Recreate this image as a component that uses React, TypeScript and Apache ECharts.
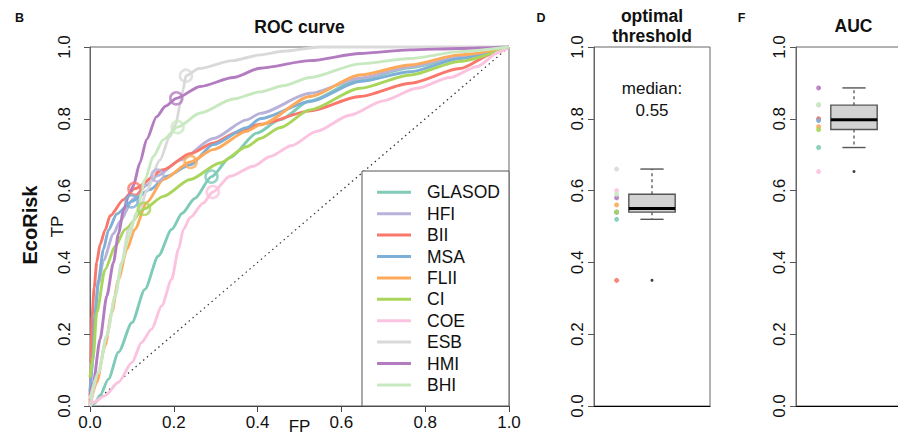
import React, { useEffect, useRef } from "react";
import * as echarts from "echarts";

// ---------- data ----------
const METHODS = ["GLASOD", "HFI", "BII", "MSA", "FLII", "CI", "COE", "ESB", "HMI", "BHI"];
const COLORS = ["#7fcbb8", "#b8b2da", "#f9786b", "#7eafd6", "#fdaa5c", "#a9d65a", "#fbc3df", "#d9d9d9", "#b47cc0", "#c8e9c0"];

const ROC_GLASOD = [[0, 0], [0.012, 0.008], [0.024, 0.03], [0.044, 0.075], [0.068, 0.15], [0.1, 0.232], [0.131, 0.325], [0.163, 0.418], [0.195, 0.492], [0.22, 0.537], [0.25, 0.578], [0.29, 0.639], [0.334, 0.692], [0.398, 0.76], [0.453, 0.797], [0.525, 0.85], [0.644, 0.91], [0.764, 0.942], [0.883, 0.972], [1, 1]];
const ROC_HFI = [[0, 0.03], [0.006, 0.12], [0.012, 0.25], [0.02, 0.34], [0.032, 0.405], [0.056, 0.48], [0.072, 0.515], [0.103, 0.577], [0.135, 0.615], [0.161, 0.642], [0.215, 0.685], [0.294, 0.745], [0.374, 0.797], [0.406, 0.815], [0.525, 0.871], [0.644, 0.913], [0.764, 0.945], [0.883, 0.975], [1, 1]];
const ROC_BII = [[0, 0], [0.002, 0.12], [0.005, 0.25], [0.01, 0.33], [0.016, 0.4], [0.024, 0.45], [0.036, 0.49], [0.048, 0.53], [0.08, 0.575], [0.106, 0.605], [0.175, 0.658], [0.239, 0.703], [0.294, 0.732], [0.35, 0.762], [0.406, 0.785], [0.525, 0.822], [0.644, 0.862], [0.764, 0.899], [0.883, 0.94], [0.963, 0.982], [1, 1]];
const ROC_MSA = [[0, 0.04], [0.006, 0.12], [0.012, 0.26], [0.02, 0.35], [0.032, 0.436], [0.044, 0.49], [0.064, 0.535], [0.0995, 0.57], [0.143, 0.603], [0.183, 0.64], [0.239, 0.672], [0.294, 0.728], [0.374, 0.775], [0.406, 0.8], [0.525, 0.848], [0.644, 0.904], [0.764, 0.931], [0.883, 0.968], [1, 1]];
const ROC_FLII = [[0, 0], [0.016, 0.066], [0.036, 0.168], [0.052, 0.26], [0.068, 0.353], [0.088, 0.436], [0.107, 0.492], [0.135, 0.566], [0.175, 0.631], [0.24, 0.68], [0.294, 0.714], [0.374, 0.765], [0.406, 0.783], [0.525, 0.862], [0.644, 0.922], [0.764, 0.95], [0.883, 0.978], [1, 1]];
const ROC_CI = [[0, 0.08], [0.008, 0.14], [0.016, 0.26], [0.036, 0.38], [0.06, 0.445], [0.084, 0.492], [0.129, 0.549], [0.175, 0.584], [0.239, 0.631], [0.31, 0.677], [0.374, 0.722], [0.406, 0.745], [0.453, 0.775], [0.525, 0.825], [0.644, 0.885], [0.764, 0.922], [0.883, 0.96], [1, 1]];
const ROC_COE = [[0, 0], [0.008, 0.01], [0.036, 0.029], [0.068, 0.066], [0.1, 0.121], [0.123, 0.177], [0.147, 0.214], [0.171, 0.279], [0.195, 0.353], [0.211, 0.436], [0.223, 0.492], [0.239, 0.525], [0.27, 0.565], [0.293, 0.596], [0.334, 0.64], [0.39, 0.668], [0.43, 0.695], [0.48, 0.725], [0.541, 0.765], [0.62, 0.81], [0.7, 0.85], [0.78, 0.885], [0.859, 0.915], [0.923, 0.945], [0.978, 0.987], [1, 1]];
const ROC_ESB = [[0, 0], [0.02, 0.093], [0.04, 0.196], [0.06, 0.306], [0.076, 0.4], [0.092, 0.492], [0.12, 0.55], [0.135, 0.6], [0.167, 0.685], [0.19, 0.75], [0.205, 0.785], [0.215, 0.84], [0.222, 0.88], [0.229, 0.92], [0.26, 0.94], [0.34, 0.962], [0.406, 0.978], [0.46, 0.988], [0.549, 1], [1, 1]];
const ROC_HMI = [[0, 0.03], [0.008, 0.066], [0.024, 0.186], [0.04, 0.306], [0.056, 0.4], [0.068, 0.48], [0.08, 0.545], [0.092, 0.585], [0.103, 0.612], [0.119, 0.677], [0.135, 0.742], [0.159, 0.806], [0.18, 0.835], [0.206, 0.857], [0.263, 0.89], [0.342, 0.915], [0.406, 0.941], [0.525, 0.962], [0.644, 0.982], [0.764, 0.992], [0.883, 0.996], [1, 1]];
const ROC_BHI = [[0, 0.02], [0.02, 0.093], [0.04, 0.196], [0.06, 0.306], [0.076, 0.4], [0.092, 0.47], [0.111, 0.538], [0.131, 0.63], [0.151, 0.695], [0.175, 0.742], [0.209, 0.777], [0.263, 0.816], [0.342, 0.855], [0.406, 0.875], [0.461, 0.892], [0.525, 0.915], [0.644, 0.953], [0.764, 0.968], [0.883, 0.987], [1, 1]];
const ROC_CURVES = [ROC_GLASOD, ROC_HFI, ROC_BII, ROC_MSA, ROC_FLII, ROC_CI, ROC_COE, ROC_ESB, ROC_HMI, ROC_BHI];

const OPT_FP = [0.29, 0.161, 0.106, 0.0995, 0.24, 0.129, 0.293, 0.229, 0.206, 0.209];
const OPT_TP = [0.639, 0.642, 0.605, 0.57, 0.68, 0.549, 0.596, 0.92, 0.857, 0.777];

const THRESHOLD = [0.52, 0.54, 0.35, 0.54, 0.56, 0.54, 0.6, 0.66, 0.58, 0.59];
const AUC = [0.72, 0.8, 0.8, 0.795, 0.778, 0.77, 0.653, 0.838, 0.886, 0.84];

const DIAGONAL = [[0, 0], [1, 1]];
const AXIS_TICKS = [0, 0.2, 0.4, 0.6, 0.8, 1.0];

// ---------- helpers ----------
const FONT = "'Liberation Sans', Arial, Helvetica, sans-serif";
const DOT_X = 0.195;
const BOX_X = 0.5;

function boxStats(vals: number[]) {
  const s = [...vals].sort((a, b) => a - b);
  const n = s.length;
  const n4 = Math.floor((n + 3) / 2) / 2;
  const d = [1, n4, (n + 1) / 2, n + 1 - n4, n];
  const f = d.map((i) => 0.5 * (s[Math.floor(i) - 1] + s[Math.ceil(i) - 1]));
  const q1 = f[1], med = f[2], q3 = f[3];
  const iqr = q3 - q1;
  const inside = s.filter((v) => v >= q1 - 1.5 * iqr && v <= q3 + 1.5 * iqr);
  const out = s.filter((v) => v < q1 - 1.5 * iqr || v > q3 + 1.5 * iqr);
  return { lo: inside[0], q1, med, q3, hi: inside[inside.length - 1], out };
}

function renderBox(params: any, api: any) {
  const x = api.value(0);
  const lo = api.value(1), q1 = api.value(2), med = api.value(3), q3 = api.value(4), hi = api.value(5);
  const cx = api.coord([x, med])[0];
  const yLo = api.coord([x, lo])[1];
  const yQ1 = api.coord([x, q1])[1];
  const yMed = api.coord([x, med])[1];
  const yQ3 = api.coord([x, q3])[1];
  const yHi = api.coord([x, hi])[1];
  const half = api.size([0.2, 0])[0];
  const cap = half / 2;
  const dash = { stroke: "#444", lineWidth: 1.2, lineDash: [3, 3] };
  const solid = { stroke: "#555", lineWidth: 1.4 };
  return {
    type: "group",
    children: [
      { type: "line", shape: { x1: cx, y1: yQ3, x2: cx, y2: yHi }, style: dash },
      { type: "line", shape: { x1: cx, y1: yQ1, x2: cx, y2: yLo }, style: dash },
      { type: "line", shape: { x1: cx - cap, y1: yHi, x2: cx + cap, y2: yHi }, style: solid },
      { type: "line", shape: { x1: cx - cap, y1: yLo, x2: cx + cap, y2: yLo }, style: solid },
      { type: "rect", shape: { x: cx - half, y: yQ3, width: 2 * half, height: yQ1 - yQ3 }, style: { fill: "#d3d3d3", stroke: "#555", lineWidth: 1.4 } },
      { type: "line", shape: { x1: cx - half, y1: yMed, x2: cx + half, y2: yMed }, style: { stroke: "#000", lineWidth: 3 } },
    ],
  };
}

function boxPanelSeries(vals: number[], idx: number) {
  const st = boxStats(vals);
  return [
    {
      type: "scatter",
      xAxisIndex: idx,
      yAxisIndex: idx,
      symbol: "circle",
      symbolSize: 5,
      silent: true,
      data: vals.map((v, i) => ({ value: [DOT_X, v], itemStyle: { color: COLORS[i], opacity: 0.9 } })),
      z: 3,
    },
    {
      type: "custom",
      xAxisIndex: idx,
      yAxisIndex: idx,
      silent: true,
      renderItem: renderBox,
      encode: { x: 0, y: [1, 2, 3, 4, 5] },
      data: [[BOX_X, st.lo, st.q1, st.med, st.q3, st.hi]],
      z: 3,
    },
    {
      type: "scatter",
      xAxisIndex: idx,
      yAxisIndex: idx,
      symbol: "circle",
      symbolSize: 3,
      silent: true,
      itemStyle: { color: "#111" },
      data: st.out.map((v) => [BOX_X, v]),
      z: 4,
    },
  ];
}

function yAxisFor(idx: number, margin: number, name?: string) {
  return {
    gridIndex: idx,
    type: "value",
    min: 0,
    max: 1,
    interval: 0.2,
    axisLine: { show: true, onZero: false, lineStyle: { color: "#666", width: 1 } },
    axisTick: { show: true, length: 6, inside: false, lineStyle: { color: "#555" } },
    axisLabel: {
      show: true,
      rotate: 90,
      margin,
      fontSize: 17,
      fontFamily: FONT,
      color: "#111",
      formatter: (v: number) => (AXIS_TICKS.some((t) => Math.abs(t - v) < 1e-9) ? v.toFixed(1) : ""),
    },
    splitLine: { show: false },
    ...(name
      ? {
          name,
          nameLocation: "middle",
          nameGap: 24,
          nameMoveOverlap: false,
          nameTextStyle: { fontSize: 17, fontFamily: FONT, color: "#111" },
        }
      : {}),
  };
}

const GRID_COMMON = { show: true, borderColor: "#666", borderWidth: 1, backgroundColor: "transparent", containLabel: false, outerBoundsMode: "none" };

export default function App() {
  const ref = useRef<HTMLDivElement>(null);

  useEffect(() => {
    if (!ref.current) return;
    const chart = echarts.init(ref.current, undefined, { renderer: "svg" });
    const thrStats = boxStats(THRESHOLD);

    const rocSeries = ROC_CURVES.map((pts, i) => ({
      type: "line",
      name: METHODS[i],
      xAxisIndex: 0,
      yAxisIndex: 0,
      data: pts,
      showSymbol: false,
      symbol: "none",
      smooth: 0.25,
      smoothMonotone: "x",
      clip: false,
      silent: true,
      color: COLORS[i],
      lineStyle: { color: COLORS[i], width: 2.9 },
      z: 2,
    }));

    const option: any = {
      animation: false,
      backgroundColor: "#fff",
      textStyle: { fontFamily: FONT },
      grid: [
        { left: 90, top: 47, width: 419, height: 359, ...GRID_COMMON },
        { left: 594, top: 47, width: 116, height: 359, ...GRID_COMMON },
        { left: 796, top: 47, width: 116, height: 359, ...GRID_COMMON },
      ],
      xAxis: [
        {
          gridIndex: 0,
          type: "value",
          min: 0,
          max: 1,
          interval: 0.2,
          axisLine: { show: true, onZero: false, lineStyle: { color: "#444", width: 1 } },
          axisTick: { show: true, length: 6, lineStyle: { color: "#444" } },
          axisLabel: { fontSize: 17, fontFamily: FONT, color: "#111", margin: 8, formatter: (v: number) => v.toFixed(1) },
          splitLine: { show: false },
          name: "FP",
          nameLocation: "middle",
          nameGap: 12,
          nameMoveOverlap: false,
          nameTextStyle: { fontSize: 17, fontFamily: FONT, color: "#111", lineHeight: 17 },
        },
        { gridIndex: 1, type: "value", min: 0, max: 1, axisLine: { show: true, onZero: false, lineStyle: { color: "#000", width: 1.2 } }, axisTick: { show: false }, axisLabel: { show: false }, splitLine: { show: false } },
        { gridIndex: 2, type: "value", min: 0, max: 1, axisLine: { show: true, onZero: false, lineStyle: { color: "#000", width: 1.2 } }, axisTick: { show: false }, axisLabel: { show: false }, splitLine: { show: false } },
      ],
      yAxis: [yAxisFor(0, 17, "TP"), yAxisFor(1, 8), yAxisFor(2, 8)],
      legend: {
        data: METHODS,
        orient: "vertical",
        left: 377,
        top: 181.6,
        padding: 0,
        itemGap: 0,
        itemWidth: 34,
        itemHeight: 3,
        icon: "rect",
        selectedMode: false,
        z: 20,
        textStyle: { fontSize: 17.5, fontFamily: FONT, color: "#111", lineHeight: 21.4, padding: [0, 0, 0, 11] },
      },
      graphic: {
        elements: [
          { type: "rect", z: 10, shape: { x: 362, y: 171, width: 147, height: 235 }, style: { fill: "#fff", stroke: "#555", lineWidth: 1 } },
          { type: "text", z: 10, x: 19.5, y: 17.5, style: { text: "B", fontSize: 12.5, fontWeight: "bold", fontFamily: FONT, fill: "#111", align: "center", verticalAlign: "middle" } },
          { type: "text", z: 10, x: 541, y: 17.5, style: { text: "D", fontSize: 12.5, fontWeight: "bold", fontFamily: FONT, fill: "#111", align: "center", verticalAlign: "middle" } },
          { type: "text", z: 10, x: 741.5, y: 17.5, style: { text: "F", fontSize: 12.5, fontWeight: "bold", fontFamily: FONT, fill: "#111", align: "center", verticalAlign: "middle" } },
          { type: "text", z: 10, x: 299.5, y: 26.5, style: { text: "ROC curve", fontSize: 17.5, fontWeight: "bold", fontFamily: FONT, fill: "#111", align: "center", verticalAlign: "middle" } },
          { type: "text", z: 10, x: 652, y: 26, style: { text: "optimal\nthreshold", fontSize: 17.5, lineHeight: 20, fontWeight: "bold", fontFamily: FONT, fill: "#111", align: "center", verticalAlign: "middle" } },
          { type: "text", z: 10, x: 853.5, y: 26, style: { text: "AUC", fontSize: 17.5, fontWeight: "bold", fontFamily: FONT, fill: "#111", align: "center", verticalAlign: "middle" } },
          { type: "text", z: 10, x: 652, y: 99, style: { text: "median:\n" + thrStats.med.toFixed(2), fontSize: 17, lineHeight: 22, fontFamily: FONT, fill: "#111", align: "center", verticalAlign: "middle" } },
          { type: "text", z: 10, x: 30, y: 225, rotation: Math.PI / 2, style: { text: "EcoRisk", fontSize: 20, fontWeight: "bold", fontFamily: FONT, fill: "#111", align: "center", verticalAlign: "middle" } },
        ],
      },
      series: [
        {
          type: "line",
          name: "diagonal",
          xAxisIndex: 0,
          yAxisIndex: 0,
          data: DIAGONAL,
          symbol: "none",
          silent: true,
          lineStyle: { color: "#333", width: 1.2, type: [1.5, 3.5] },
          z: 1,
        },
        ...rocSeries,
        {
          type: "scatter",
          name: "optimal",
          xAxisIndex: 0,
          yAxisIndex: 0,
          symbol: "circle",
          symbolSize: 12,
          silent: true,
          data: OPT_FP.map((fp, i) => ({
            value: [fp, OPT_TP[i]],
            itemStyle: { color: "rgba(255,255,255,0)", borderColor: COLORS[i], borderWidth: 2.6 },
          })),
          z: 3,
        },
        ...boxPanelSeries(THRESHOLD, 1),
        ...boxPanelSeries(AUC, 2),
      ],
    };

    chart.setOption(option);
    return () => {
      chart.dispose();
    };
  }, []);

  return (
    <div
      ref={ref}
      style={{ position: "absolute", left: 0, top: 0, width: 898, height: 437, overflow: "hidden", background: "#fff" }}
    />
  );
}
